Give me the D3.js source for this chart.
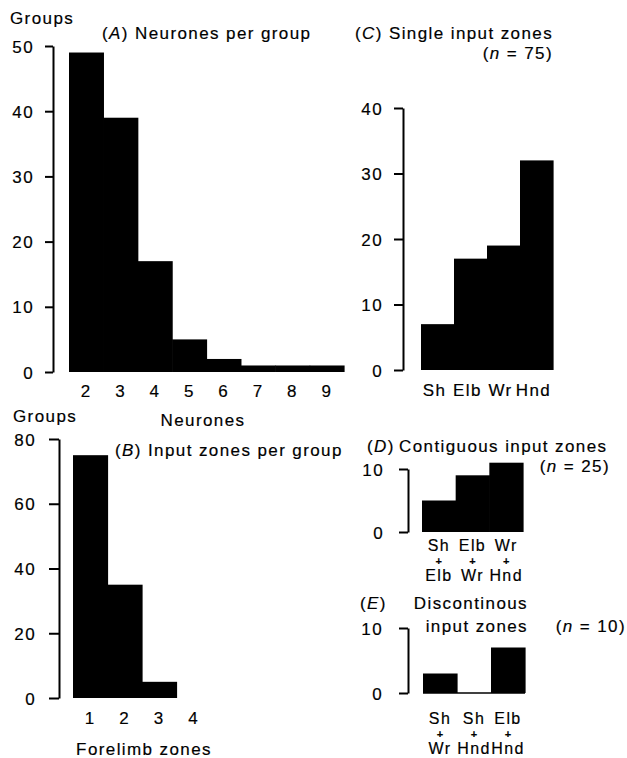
<!DOCTYPE html>
<html><head><meta charset="utf-8">
<script src="https://cdn.jsdelivr.net/npm/d3@7"></script>
<style>
body{margin:0;background:#fff;}
svg text{font-family:"Liberation Sans",Arial,Helvetica,sans-serif;font-size:17px;letter-spacing:1.4px;fill:#000;stroke:#000;stroke-width:0.18px;}
svg text.stack{font-size:16px;}
svg text.plus{font-size:11px;letter-spacing:0;font-weight:bold;}
</style></head><body>
<svg id="chart" width="627" height="758"></svg>
<script>
// ---- data ----
const neuronCats = ["2","3","4","5","6","7","8","9"];
const neuronGroups = [49,39,17,5,2,1,1,1];
const neuronTicks = [0,10,20,30,40,50];

const zoneCats = ["1","2","3","4"];
const zoneGroups = [75,35,5,0];
const zoneTicks = [0,20,40,60,80];

const singleCats = ["Sh","Elb","Wr","Hnd"];
const singleGroups = [7,17,19,32];
const singleTicks = [0,10,20,30,40];

const contigCats = [["Sh","+","Elb"],["Elb","+","Wr"],["Wr","+","Hnd"]];
const contigGroups = [5,9,11];
const contigTicks = [0,10];

const discCats = [["Sh","+","Wr"],["Sh","+","Hnd"],["Elb","+","Hnd"]];
const discGroups = [3,0,7];
const discTicks = [0,10];

// ---- drawing ----
const svg = d3.select("#chart");

function label(x, y, segs, anchor) {
  const t = svg.append("text").attr("x", x).attr("y", y).attr("text-anchor", anchor || "start");
  segs.forEach(s => {
    const ts = t.append("tspan").text(s[0]);
    if (s[1]) ts.attr("font-style", "italic");
  });
  return t;
}

function panel(o) {
  const g = svg.append("g");
  const x = d3.scaleBand().domain(d3.range(o.cats.length)).range([o.x0, o.x1]).padding(0);
  const y = d3.scaleLinear().domain([0, d3.max(o.ticks)]).range([o.y0, o.y1]);

  const bars = o.vals.map((v, i) => ({v, i})).filter(d => d.v > 0);
  g.selectAll("rect").data(bars).join("rect")
    .attr("x", d => x(d.i))
    .attr("y", d => y(d.v))
    .attr("width", x.bandwidth() + 0.6)
    .attr("height", d => y(0) - y(d.v))
    .attr("fill", "#000");

  if (o.baseline) {
    g.append("line")
      .attr("x1", o.x0).attr("x2", o.x1)
      .attr("y1", y(0)).attr("y2", y(0))
      .attr("stroke", "#000").attr("stroke-width", 1.6);
  }

  const axis = d3.axisLeft(y).tickValues(o.ticks).tickSize(o.tick).tickPadding(o.pad)
    .tickSizeOuter(0).tickFormat(d3.format("d"));
  const ag = g.append("g").attr("transform", `translate(${o.ax},0)`).call(axis);
  ag.attr("font-size", null).attr("font-family", null);
  ag.select(".domain").attr("stroke-width", 2);
  ag.selectAll(".tick line").attr("stroke-width", 2);
  ag.selectAll(".tick text").attr("dy", "0.36em");

  const shift = o.shift || 0;
  o.cats.forEach((c, i) => {
    const lines = Array.isArray(c) ? c : [c];
    const cx = x(i) + x.bandwidth() / 2 + shift;
    lines.forEach((s, j) => {
      g.append("text")
        .attr("class", s === "+" ? "plus" : (lines.length > 1 ? "stack" : null))
        .attr("x", cx)
        .attr("y", o.ly[j])
        .attr("text-anchor", "middle")
        .text(s);
    });
  });
}

// (A)
panel({cats: neuronCats, vals: neuronGroups, ticks: neuronTicks,
  x0: 69, x1: 344, y0: 372, y1: 46, ax: 53, tick: 8, pad: 11, ly: [397]});
label(10, 24, [["Groups"]]);
label(102, 39, [["("], ["A", true], [") Neurones per group"]]);
label(203, 426, [["Neurones"]], "middle");

// (B)
panel({cats: zoneCats, vals: zoneGroups, ticks: zoneTicks,
  x0: 73, x1: 211, y0: 698, y1: 439, ax: 59, tick: 10, pad: 13, ly: [724]});
label(13, 422, [["Groups"]]);
label(115, 456, [["("], ["B", true], [") Input zones per group"]]);
label(144, 755, [["Forelimb zones"]], "middle");

// (C)
panel({cats: singleCats, vals: singleGroups, ticks: singleTicks,
  x0: 421, x1: 553, y0: 370, y1: 108, ax: 403, tick: 9, pad: 11, ly: [396], shift: -3});
label(355, 39, [["("], ["C", true], [") Single input zones"]]);
label(553, 59, [["("], ["n", true], [" = 75)"]], "end");

// (D)
panel({cats: contigCats, vals: contigGroups, ticks: contigTicks,
  x0: 422, x1: 523, y0: 532, y1: 469, ax: 408, tick: 9, pad: 15, ly: [551, 564.6, 581.4]});
label(367, 452, [["("], ["D", true], [")"]]);
label(399, 452, [["Contiguous input zones"]]);
label(610, 472, [["("], ["n", true], [" = 25)"]], "end");

// (E)
panel({cats: discCats, vals: discGroups, ticks: discTicks,
  x0: 423, x1: 525, y0: 693, y1: 628, ax: 408, tick: 9, pad: 16, ly: [724, 737.6, 754.4], baseline: true});
label(360, 609, [["("], ["E", true], [")"]]);
label(528, 609, [["Discontinous"]], "end");
label(528, 632, [["input zones"]], "end");
label(626, 632, [["("], ["n", true], [" = 10)"]], "end");
</script>
</body></html>
